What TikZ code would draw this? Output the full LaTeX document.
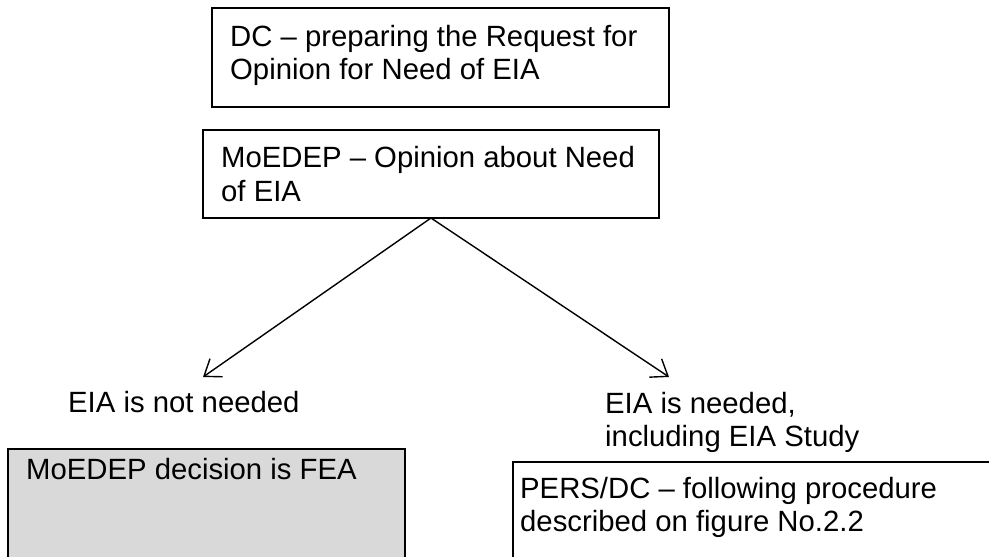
\documentclass[tikz,border=0pt]{standalone}
\usepackage{fontspec}
\setmainfont{Liberation Sans}
\usetikzlibrary{arrows.meta}
\begin{document}
\begin{tikzpicture}[x=1pt,y=-1pt,
 box/.style={draw=black, line width=1.4pt, inner sep=0pt, outer sep=0pt, anchor=north west},
 txt/.style={anchor=base west, inner sep=0pt, font=\fontsize{29.3}{34}\selectfont},
 arr/.style={line width=1.4pt, -{Straight Barb[length=15pt,width=22pt,line width=1.4pt]}}]
\useasboundingbox (0,0) rectangle (989,557);
\clip (0,0) rectangle (989,557);
\fill[white] (0,0) rectangle (989,557);
% boxes
\node[box, minimum width=457pt, minimum height=99pt] (b1) at (212,8) {};
\node[box, minimum width=456pt, minimum height=88pt] (b2) at (203,130) {};
\node[box, fill={rgb,255:red,217;green,217;blue,217}, minimum width=397pt, minimum height=160pt] (b3) at (8,449) {};
\node[box, minimum width=500pt, minimum height=160pt] (b4) at (513,462) {};
% texts
\node[txt] (t1a) at (230,46) {DC – preparing the Request for};
\node[txt] (t1b) at (230,79) {Opinion for Need of EIA};
\node[txt] (t2a) at (221,167) {MoEDEP – Opinion about Need};
\node[txt] (t2b) at (221,201) {of EIA};
\node[txt] (l1) at (68,412) {EIA is not needed};
\node[txt] (t3) at (26,479) {MoEDEP decision is FEA};
\node[txt] (l2a) at (605,413) {EIA is needed,};
\node[txt] (l2b) at (605,446) {including EIA Study};
\node[txt] (t4a) at (520,498) {PERS/DC – following procedure};
\node[txt] (t4b) at (520,531) {described on figure No.2.2};
% arrows
\coordinate (tipL) at (203,377);
\coordinate (tipR) at (669,377);
\draw[arr] (b2.south) -- (tipL);
\draw[arr] (b2.south) -- (tipR);
\end{tikzpicture}
\end{document}
